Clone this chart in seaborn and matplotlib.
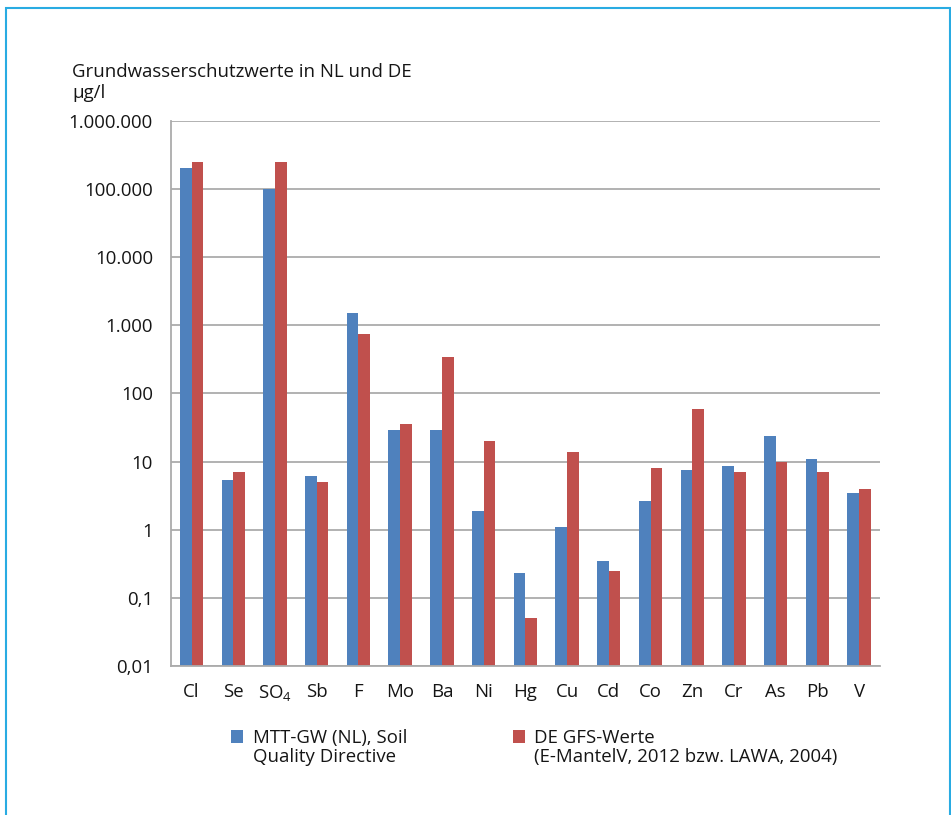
import matplotlib
matplotlib.use("Agg")
import matplotlib.pyplot as plt
import seaborn as sns
import pandas as pd
from matplotlib.patches import Rectangle

# ---------------- data ----------------
elements = ["Cl", "Se", "SO$_4$", "Sb", "F", "Mo", "Ba", "Ni", "Hg",
            "Cu", "Cd", "Co", "Zn", "Cr", "As", "Pb", "V"]
nl_values = [200000, 5.3, 100000, 6.2, 1500, 29, 29, 1.9, 0.23,
             1.1, 0.35, 2.6, 7.4, 8.6, 24, 11, 3.5]
de_values = [250000, 7, 250000, 5, 750, 35, 340, 20, 0.05,
             14, 0.25, 8, 58, 7, 10, 7, 4]
series_keys = ["NL", "DE"]
legend_line1 = ["MTT-GW (NL), Soil", "DE GFS-Werte"]
legend_line2 = ["Quality Directive", "(E-MantelV, 2012 bzw. LAWA, 2004)"]
ytick_values = [0.01, 0.1, 1, 10, 100, 1000, 10000, 100000, 1000000]
ytick_labels = ["0,01", "0,1", "1", "10", "100", "1.000", "10.000",
                "100.000", "1.000.000"]
title_line1 = "Grundwasserschutzwerte in NL und DE"
title_line2 = "µg/l"

colors = {"NL": "#4F81BD", "DE": "#C0504D"}

df = pd.DataFrame({
    "element": elements * 2,
    "value": nl_values + de_values,
    "series": [series_keys[0]] * len(elements) + [series_keys[1]] * len(elements),
})

# ---------------- style ----------------
sns.set_theme(style="white")
plt.rcParams["font.family"] = ["Open Sans", "DejaVu Sans"]
plt.rcParams["mathtext.fontset"] = "custom"
plt.rcParams["mathtext.rm"] = "Open Sans"
plt.rcParams["mathtext.it"] = "Open Sans:italic"
plt.rcParams["mathtext.bf"] = "Open Sans:bold"

TXT = "#151515"
FS = 13.4

W, H = 951, 815
fig = plt.figure(figsize=(W / 100, H / 100), dpi=100)
fig.patch.set_facecolor("white")

ax_l, ax_r, ax_t, ax_b = 170.7, 880, 120.7, 666
ax = fig.add_axes([ax_l / W, 1 - ax_b / H, (ax_r - ax_l) / W, (ax_b - ax_t) / H])

sns.barplot(data=df, x="element", y="value", hue="series", order=elements,
            hue_order=series_keys, palette=colors, width=0.56, gap=0,
            saturation=1, log_scale=True, ax=ax, legend=True,
            linewidth=0, edgecolor="none")

ax.set_yscale("log")
ax.set_ylim(0.01, 1000000)
ax.set_xlim(-0.5, len(elements) - 0.5)
ax.set_yticks(ytick_values)
ax.set_yticklabels(ytick_labels)
ax.yaxis.set_minor_locator(matplotlib.ticker.NullLocator())
ax.set_xlabel("")
ax.set_ylabel("")

grid_c = "#ABABAB"
ax.set_axisbelow(True)
ax.yaxis.grid(True, color=grid_c, linewidth=1.3)
ax.xaxis.grid(False)
for s in ["top", "right"]:
    ax.spines[s].set_visible(False)
for s in ["left", "bottom"]:
    ax.spines[s].set_color(grid_c)
    ax.spines[s].set_linewidth(1.3)

ax.tick_params(axis="y", which="major", direction="out", length=4.3, width=1.0,
               color=grid_c, pad=8.5, labelsize=FS, labelcolor=TXT)
ax.set_xticks(range(len(elements)))
ax.set_xticklabels(elements)
ax.set_xticks([i - 0.5 for i in range(len(elements) + 1)], minor=True)
ax.tick_params(axis="x", which="major", length=0, pad=12, labelsize=FS,
               labelcolor=TXT)
ax.tick_params(axis="x", which="minor", direction="out", length=3.6, width=1.0,
               color=grid_c)

# legend (handles from seaborn)
handles, _ = ax.get_legend_handles_labels()
ax.get_legend().remove()
hl, htp = 0.65, 0.52
leg_x = [231 / W, 512.7 / W]
leg_y = 1 - 729 / H
for i in range(2):
    fig.legend([handles[i]], [legend_line1[i]], loc="upper left",
               bbox_to_anchor=(leg_x[i], leg_y), frameon=False,
               fontsize=FS, handlelength=hl, handleheight=hl,
               handletextpad=htp, borderpad=0, borderaxespad=0,
               labelcolor=TXT)
    fig.text(leg_x[i] + (hl + htp) * FS * 100 / 72 / W, 1 - 761.7 / H,
             legend_line2[i], fontsize=FS, va="baseline", ha="left",
             color=TXT)

# title
fig.text(72 / W, 1 - 76.7 / H, title_line1, fontsize=FS, va="baseline",
         ha="left", color=TXT)
fig.text(72 / W, 1 - 97.5 / H, title_line2, fontsize=FS, va="baseline",
         ha="left", color=TXT)

# frame
fig.patches.append(Rectangle((5.7 / W, -0.02), (950 - 5.7) / W, 1.02 - 8.2 / H,
                             transform=fig.transFigure, fill=False,
                             edgecolor="#29ABE2", linewidth=1.5))

fig.savefig("out.png", dpi=100)
